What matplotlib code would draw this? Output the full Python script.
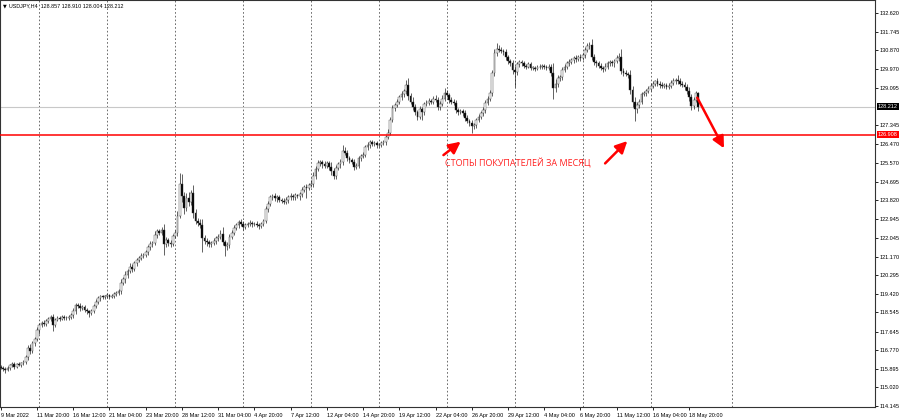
import matplotlib
matplotlib.use('Agg')
import matplotlib.pyplot as plt
from matplotlib.transforms import blended_transform_factory

plt.rcParams['font.family'] = ['Liberation Sans', 'DejaVu Sans']

# USDJPY H4 closes (bar 0 = 9 Mar 2022)
first_open = 115.98
closes = [
    115.95, 115.90, 115.85, 115.92, 116.05, 116.10, 116.00, 116.12, 116.08, 116.15, 116.20, 116.45, 116.85, 116.75, 117.10, 117.30, 117.70, 117.95, 118.05, 118.00,
    118.15, 118.25, 118.35, 117.95, 118.20, 118.30, 118.25, 118.35, 118.30, 118.28, 118.32, 118.40, 118.60, 118.90, 118.85, 118.75, 118.80, 118.65, 118.60, 118.50,
    118.60, 118.85, 119.05, 119.20, 119.30, 119.25, 119.30, 119.35, 119.28, 119.32, 119.40, 119.45, 119.55, 119.95, 120.10, 120.30, 120.50, 120.70, 120.60, 120.85,
    121.00, 121.10, 121.20, 121.25, 121.40, 121.60, 121.75, 121.80, 122.20, 122.35, 122.30, 122.40, 121.75, 121.95, 121.80, 121.75, 122.15, 122.30, 123.10, 124.60,
    124.00, 123.45, 123.90, 123.75, 124.15, 123.20, 122.85, 122.75, 122.65, 122.05, 121.90, 121.85, 121.75, 121.80, 121.90, 122.05, 122.10, 122.25, 121.85, 121.65,
    121.70, 122.10, 122.30, 122.50, 122.65, 122.80, 122.70, 122.55, 122.65, 122.70, 122.75, 122.68, 122.72, 122.65, 122.60, 122.70, 122.85, 123.40, 123.65, 123.95,
    124.00, 123.90, 123.95, 123.85, 123.80, 123.75, 123.85, 123.95, 124.00, 123.95, 124.05, 124.00, 124.10, 124.30, 124.45, 124.40, 124.55, 124.60, 124.95, 125.30,
    125.55, 125.60, 125.50, 125.45, 125.55, 125.40, 125.20, 124.95, 125.35, 125.50, 125.60, 126.15, 126.05, 125.80, 125.70, 125.60, 125.40, 125.45, 125.80, 125.90,
    125.95, 126.30, 126.40, 126.55, 126.45, 126.50, 126.40, 126.42, 126.50, 126.55, 126.80, 127.00, 127.60, 128.15, 128.30, 128.45, 128.65, 128.80, 128.95, 129.25,
    128.70, 128.45, 128.20, 127.95, 127.75, 128.10, 127.95, 128.35, 128.40, 128.50, 128.45, 128.60, 128.55, 128.20, 128.35, 128.60, 128.85, 128.75, 128.55, 128.45,
    128.40, 128.05, 127.95, 128.00, 127.90, 127.70, 127.55, 127.45, 127.30, 127.35, 127.60, 127.75, 127.90, 128.05, 128.40, 128.60, 128.85, 129.80, 130.75, 130.95,
    130.90, 130.85, 130.80, 130.55, 130.35, 130.25, 129.95, 129.85, 130.20, 130.30, 130.25, 130.15, 130.10, 130.20, 130.05, 130.05, 130.00, 130.10, 130.08, 130.12,
    130.10, 130.05, 130.10, 129.80, 129.10, 129.30, 129.55, 129.60, 129.95, 130.10, 130.25, 130.30, 130.40, 130.50, 130.45, 130.55, 130.50, 130.65, 130.90, 131.05,
    131.10, 130.55, 130.30, 130.25, 130.15, 130.05, 130.00, 130.10, 130.25, 130.30, 130.25, 130.35, 130.50, 130.55, 129.90, 129.80, 129.75, 129.70, 129.00, 128.45,
    128.10, 128.30, 128.45, 128.80, 128.85, 128.95, 129.05, 129.20, 129.30, 129.40, 129.30, 129.25, 129.20, 129.25, 129.15, 129.20, 129.35, 129.40, 129.45, 129.40,
    129.30, 129.25, 129.15, 128.95, 128.65, 128.25, 128.55, 128.857, 128.212,
]
# wick lengths above / below the body
up_wick = [
    0.10, 0.06, 0.08, 0.12, 0.07, 0.09, 0.10, 0.06, 0.08, 0.07, 0.12, 0.10, 0.15, 0.20, 0.12, 0.10, 0.18, 0.10, 0.08, 0.12,
    0.08, 0.10, 0.07, 0.12, 0.10, 0.08, 0.06, 0.09, 0.07, 0.08, 0.10, 0.12, 0.15, 0.10, 0.08, 0.12, 0.09, 0.07, 0.10, 0.08,
    0.10, 0.08, 0.12, 0.10, 0.07, 0.08, 0.06, 0.09, 0.08, 0.07, 0.10, 0.12, 0.10, 0.15, 0.12, 0.18, 0.10, 0.15, 0.12, 0.10,
    0.12, 0.10, 0.15, 0.08, 0.10, 0.12, 0.15, 0.10, 0.18, 0.12, 0.10, 0.15, 0.30, 0.12, 0.10, 0.15, 0.10, 0.12, 0.20, 0.50,
    0.45, 0.20, 0.25, 0.30, 0.15, 0.40, 0.20, 0.15, 0.18, 0.30, 0.12, 0.15, 0.10, 0.12, 0.15, 0.10, 0.12, 0.15, 0.30, 0.12,
    0.15, 0.12, 0.10, 0.15, 0.12, 0.10, 0.15, 0.12, 0.10, 0.08, 0.12, 0.10, 0.08, 0.10, 0.12, 0.08, 0.10, 0.15, 0.12, 0.10,
    0.12, 0.15, 0.10, 0.12, 0.08, 0.10, 0.12, 0.10, 0.15, 0.12, 0.10, 0.08, 0.12, 0.15, 0.10, 0.12, 0.10, 0.15, 0.20, 0.15,
    0.15, 0.10, 0.12, 0.15, 0.10, 0.12, 0.20, 0.15, 0.12, 0.10, 0.15, 0.25, 0.15, 0.12, 0.10, 0.12, 0.15, 0.10, 0.12, 0.10,
    0.12, 0.10, 0.15, 0.10, 0.08, 0.12, 0.10, 0.08, 0.10, 0.12, 0.10, 0.15, 0.12, 0.15, 0.10, 0.12, 0.10, 0.15, 0.12, 0.20,
    0.30, 0.15, 0.20, 0.15, 0.10, 0.15, 0.12, 0.10, 0.15, 0.12, 0.10, 0.12, 0.15, 0.10, 0.12, 0.15, 0.25, 0.15, 0.12, 0.10,
    0.12, 0.15, 0.10, 0.12, 0.10, 0.15, 0.12, 0.10, 0.15, 0.12, 0.10, 0.12, 0.10, 0.15, 0.12, 0.10, 0.15, 0.12, 0.20, 0.25,
    0.15, 0.12, 0.10, 0.15, 0.10, 0.12, 0.15, 0.20, 0.12, 0.10, 0.12, 0.10, 0.08, 0.10, 0.12, 0.08, 0.10, 0.08, 0.10, 0.08,
    0.10, 0.08, 0.10, 0.12, 0.45, 0.20, 0.15, 0.12, 0.15, 0.10, 0.12, 0.15, 0.10, 0.12, 0.15, 0.10, 0.12, 0.10, 0.12, 0.15,
    0.15, 0.30, 0.15, 0.12, 0.10, 0.12, 0.10, 0.15, 0.12, 0.10, 0.12, 0.10, 0.15, 0.20, 0.40, 0.15, 0.12, 0.10, 0.25, 0.20,
    0.20, 0.15, 0.12, 0.10, 0.12, 0.10, 0.15, 0.12, 0.10, 0.08, 0.15, 0.10, 0.12, 0.10, 0.08, 0.12, 0.10, 0.15, 0.12, 0.25,
    0.15, 0.10, 0.12, 0.15, 0.20, 0.15, 0.12, 0.10, 0.053,
]
dn_wick = [
    0.08, 0.10, 0.15, 0.07, 0.10, 0.08, 0.12, 0.09, 0.07, 0.10, 0.08, 0.10, 0.12, 0.15, 0.10, 0.12, 0.10, 0.15, 0.08, 0.10,
    0.10, 0.08, 0.12, 0.30, 0.10, 0.08, 0.10, 0.07, 0.09, 0.08, 0.10, 0.08, 0.10, 0.12, 0.10, 0.15, 0.08, 0.10, 0.12, 0.15,
    0.10, 0.08, 0.10, 0.12, 0.10, 0.08, 0.07, 0.10, 0.09, 0.08, 0.10, 0.08, 0.10, 0.12, 0.10, 0.15, 0.12, 0.10, 0.15, 0.10,
    0.12, 0.10, 0.08, 0.12, 0.10, 0.15, 0.10, 0.12, 0.10, 0.15, 0.12, 0.10, 0.50, 0.15, 0.12, 0.15, 0.10, 0.12, 0.15, 0.12,
    0.25, 0.30, 0.15, 0.20, 0.15, 0.20, 0.15, 0.12, 0.15, 0.65, 0.15, 0.20, 0.12, 0.15, 0.10, 0.12, 0.15, 0.10, 0.15, 0.45,
    0.15, 0.12, 0.10, 0.12, 0.10, 0.15, 0.10, 0.12, 0.10, 0.08, 0.10, 0.12, 0.08, 0.10, 0.12, 0.10, 0.08, 0.12, 0.15, 0.10,
    0.12, 0.10, 0.15, 0.12, 0.10, 0.12, 0.10, 0.15, 0.12, 0.10, 0.12, 0.10, 0.15, 0.12, 0.10, 0.50, 0.12, 0.10, 0.15, 0.12,
    0.12, 0.10, 0.15, 0.12, 0.10, 0.15, 0.20, 0.15, 0.12, 0.10, 0.15, 0.12, 0.10, 0.15, 0.12, 0.10, 0.15, 0.12, 0.10, 0.12,
    0.10, 0.12, 0.10, 0.12, 0.10, 0.08, 0.12, 0.10, 0.08, 0.10, 0.12, 0.10, 0.12, 0.10, 0.12, 0.10, 0.12, 0.10, 0.15, 0.12,
    0.15, 0.12, 0.15, 0.12, 0.15, 0.12, 0.35, 0.12, 0.10, 0.12, 0.10, 0.12, 0.10, 0.15, 0.12, 0.10, 0.12, 0.10, 0.15, 0.12,
    0.10, 0.15, 0.12, 0.10, 0.12, 0.15, 0.12, 0.15, 0.30, 0.12, 0.15, 0.10, 0.12, 0.10, 0.15, 0.12, 0.10, 0.15, 0.12, 0.15,
    0.12, 0.10, 0.15, 0.12, 0.15, 0.12, 0.20, 0.70, 0.15, 0.12, 0.10, 0.12, 0.10, 0.08, 0.10, 0.12, 0.10, 0.08, 0.10, 0.08,
    0.10, 0.12, 0.10, 0.15, 0.50, 0.20, 0.15, 0.12, 0.15, 0.12, 0.10, 0.12, 0.10, 0.15, 0.12, 0.10, 0.12, 0.10, 0.15, 0.12,
    0.12, 0.15, 0.12, 0.15, 0.10, 0.12, 0.15, 0.10, 0.12, 0.10, 0.12, 0.15, 0.10, 0.12, 0.15, 0.12, 0.10, 0.15, 0.20, 0.25,
    0.55, 0.20, 0.15, 0.12, 0.10, 0.15, 0.10, 0.12, 0.10, 0.12, 0.10, 0.15, 0.12, 0.10, 0.12, 0.10, 0.12, 0.10, 0.12, 0.10,
    0.12, 0.10, 0.15, 0.12, 0.15, 0.20, 0.15, 0.10, 0.208,
]

tick_bars = list(range(0, 305, 16))
tick_labels = ["9 Mar 2022", "11 Mar 20:00", "16 Mar 12:00", "21 Mar 04:00", "23 Mar 20:00",
               "28 Mar 12:00", "31 Mar 04:00", "4 Apr 20:00", "7 Apr 12:00", "12 Apr 04:00",
               "14 Apr 20:00", "19 Apr 12:00", "22 Apr 04:00", "26 Apr 20:00", "29 Apr 12:00",
               "4 May 04:00", "6 May 20:00", "11 May 12:00", "16 May 04:00", "18 May 20:00"]
price_ticks = [132.620, 131.745, 130.870, 129.970, 129.095, 127.345, 126.470, 125.570,
               124.695, 123.820, 122.945, 122.045, 121.170, 120.295, 119.420, 118.545,
               117.645, 116.770, 115.895, 115.020, 114.145]
bid = 128.212
stop_level = 126.908
header = "USDJPY,H4  128.857 128.910 128.004 128.212"
note = "СТОПЫ ПОКУПАТЕЛЕЙ ЗА МЕСЯЦ"

# build OHLC
opens = [first_open] + closes[:-1]
highs = [max(o, c) + u for o, c, u in zip(opens, closes, up_wick)]
lows = [min(o, c) - d for o, c, d in zip(opens, closes, dn_wick)]
idx = list(range(len(closes)))
bottoms = [min(o, c) for o, c in zip(opens, closes)]
heights = [max(abs(c - o), 0.02) for o, c in zip(opens, closes)]
faces = ['white' if c >= o else 'black' for o, c in zip(opens, closes)]

fig = plt.figure(figsize=(9, 4.2), dpi=100)
ax = fig.add_axes([0.0, 1 - 407 / 420, 875 / 900, 407 / 420])

# grid
for gx in [17, 47, 77, 107, 137, 167, 197, 227, 257, 287, 323]:
    ax.axvline(gx, color='#555555', lw=0.6, linestyle=(0, (2, 2.5)), zorder=0)

ax.axhline(bid, color='#c8c8c8', lw=0.8, zorder=1)
ax.vlines(idx, lows, highs, color='#222222', linewidth=0.5, zorder=2)
ax.bar(idx, heights, bottom=bottoms, width=0.78, color=faces,
       edgecolor='#333333', linewidth=0.3, zorder=3)
ax.axhline(stop_level, color='red', lw=1.1, zorder=4)

ax.set_xlim(-0.35, 386.1)
ax.set_ylim(114.098, 133.231)

ax.yaxis.tick_right()
ax.set_yticks(price_ticks)
ax.set_yticklabels(['%.3f' % p for p in price_ticks])
ax.set_xticks(tick_bars)
ax.set_xticklabels(tick_labels, ha='left')
ax.tick_params(axis='y', length=2.5, width=0.6, pad=1, labelsize=4.0, direction='out')
ax.tick_params(axis='x', length=2.5, width=0.6, pad=1.5, labelsize=4.0, direction='out')
for s in ax.spines.values():
    s.set_color('#333333')
    s.set_linewidth(0.8)

# price tags on the axis
tr = blended_transform_factory(ax.transAxes, ax.transData)
ax.text(1.003, bid, '%.3f' % bid, transform=tr, fontsize=4.0, color='white', va='center',
        ha='left', bbox=dict(boxstyle='square,pad=0.2', fc='black', ec='none'), clip_on=False)
ax.text(1.003, stop_level, '%.3f' % stop_level, transform=tr, fontsize=4.0, color='white',
        va='center', ha='left', bbox=dict(boxstyle='square,pad=0.2', fc='red', ec='none'), clip_on=False)

# annotation arrows and note
arrow = dict(arrowstyle='-|>,head_length=0.7,head_width=0.35', color='red', lw=1.8,
             shrinkA=0, shrinkB=0)
ax.annotate('', xy=(203.1, 126.57), xytext=(195.5, 125.94), arrowprops=arrow, zorder=5)
ax.annotate('', xy=(276.7, 126.60), xytext=(266.9, 125.55), arrowprops=arrow, zorder=5)
ax.annotate('', xy=(319.4, 126.26), xytext=(307.6, 128.64), arrowprops=arrow, zorder=5)
ax.text(196.2, 125.55, note, color='#ff2020', fontsize=6.5, va='center', ha='left',
        family=['Open Sans', 'DejaVu Sans'], zorder=5)

fig.text(3 / 900, 1 - 6 / 420, '▼', fontsize=3.5, va='center', family=['DejaVu Sans'])
fig.text(9 / 900, 1 - 6 / 420, header, fontsize=3.9, va='center')

fig.savefig('out.png', dpi=100, facecolor='white')
